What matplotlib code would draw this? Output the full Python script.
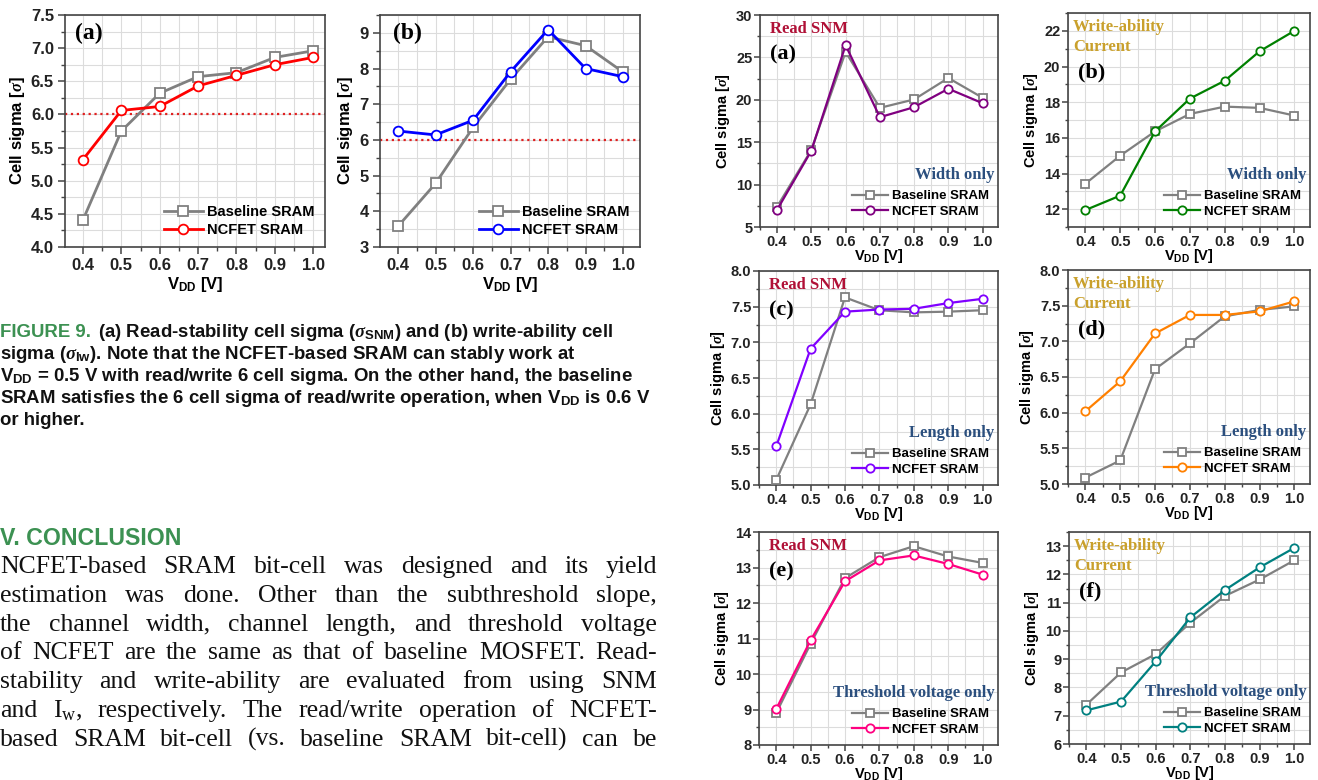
import matplotlib.pyplot as plt
from matplotlib.ticker import MultipleLocator

plt.rcParams['font.family'] = 'Liberation Sans'
plt.rcParams['font.weight'] = 'bold'
plt.rcParams['axes.labelweight'] = 'bold'
plt.rcParams['mathtext.fontset'] = 'custom'
plt.rcParams['mathtext.rm'] = 'Liberation Serif:regular'
plt.rcParams['mathtext.it'] = 'Liberation Serif:italic'
plt.rcParams['mathtext.bf'] = 'Liberation Sans:bold'

W, H = 1318, 780

# ---- data ----
vdd = [0.4, 0.5, 0.6, 0.7, 0.8, 0.9, 1.0]

# Figure 9 (left)
snm_base = [4.41, 5.75, 6.32, 6.57, 6.63, 6.86, 6.96]
snm_ncfet = [5.32, 6.06, 6.12, 6.43, 6.59, 6.75, 6.86]
iw_base = [3.58, 4.78, 6.35, 7.70, 8.89, 8.64, 7.90]
iw_ncfet = [6.25, 6.14, 6.55, 7.91, 9.09, 8.00, 7.77]

# right figure: width / length / threshold voltage only
w_snm_base = [7.4, 14.1, 25.65, 19.05, 20.04, 22.57, 20.24]
w_snm_ncfet = [7.04, 14.0, 26.44, 17.95, 19.13, 21.3, 19.6]
w_iw_base = [13.43, 15.0, 16.36, 17.34, 17.75, 17.68, 17.25]
w_iw_ncfet = [11.95, 12.76, 16.36, 18.2, 19.2, 20.85, 22.0]
l_snm_base = [5.07, 6.13, 7.63, 7.45, 7.42, 7.43, 7.45]
l_snm_ncfet = [5.54, 6.91, 7.43, 7.46, 7.47, 7.55, 7.61]
l_iw_base = [5.09, 5.33, 6.61, 6.97, 7.35, 7.44, 7.49]
l_iw_ncfet = [6.02, 6.44, 7.11, 7.37, 7.37, 7.42, 7.56]
v_snm_base = [8.9, 10.85, 12.70, 13.29, 13.6, 13.31, 13.13]
v_snm_ncfet = [9.01, 10.95, 12.61, 13.2, 13.34, 13.1, 12.8]
v_iw_base = [7.39, 8.53, 9.18, 10.29, 11.24, 11.82, 12.5]
v_iw_ncfet = [7.19, 7.5, 8.92, 10.48, 11.45, 12.25, 12.94]

caption = [
    r"sigma ($\sigma_{\mathbf{Iw}}$). Note that the NCFET-based SRAM can stably work at",
    r"V$_{\mathbf{DD}}$ = 0.5 V with read/write 6 cell sigma. On the other hand, the baseline",
    r"SRAM satisfies the 6 cell sigma of read/write operation, when V$_{\mathbf{DD}}$ is 0.6 V",
    "or higher.",
]
caption_first = r"(a) Read-stability cell sigma ($\sigma_{\mathbf{SNM}}$) and (b) write-ability cell"

body = [
    "NCFET-based SRAM bit-cell was designed and its yield",
    "estimation was done. Other than the subthreshold slope,",
    "the channel width, channel length, and threshold voltage",
    "of NCFET are the same as that of baseline MOSFET. Read-",
    "stability and write-ability are evaluated from using SNM",
    r"and I$_\mathrm{w}$, respectively. The read/write operation of NCFET-",
    "based SRAM bit-cell (vs. baseline SRAM bit-cell) can be",
]

fig = plt.figure(figsize=(W / 100, H / 100), dpi=100)
fig.patch.set_facecolor('white')


def px_axes(x0, y0, x1, y1):
    return fig.add_axes([x0 / W, 1 - y1 / H, (x1 - x0) / W, (y1 - y0) / H])


def panel(ax, base, ncf, color, ylim, major, minor, xlim, big=False):
    lw = 2.0 if big else 1.6
    ms = 6.5 if big else 5.5
    ax.plot(vdd, base, color='#808080', lw=lw, marker='s', ms=ms,
            mfc='white', mec='#808080', mew=1.3, label='Baseline SRAM', zorder=3)
    ax.plot(vdd, ncf, color=color, lw=lw, marker='o', ms=ms + 0.5,
            mfc='white', mec=color, mew=1.3, label='NCFET SRAM', zorder=4)
    ax.set_xlim(*xlim)
    ax.set_ylim(*ylim)
    ax.xaxis.set_major_locator(MultipleLocator(0.1))
    ax.xaxis.set_minor_locator(MultipleLocator(0.05))
    ax.yaxis.set_major_locator(MultipleLocator(major))
    ax.yaxis.set_minor_locator(MultipleLocator(minor))
    ax.grid(which='both', color='#dcdcdc', lw=0.8)
    ax.set_axisbelow(True)
    for s in ax.spines.values():
        s.set_color('#444444')
        s.set_linewidth(1.2)
    fs = 12 if big else 10.5
    ax.tick_params(which='major', direction='out', length=5 if big else 4, width=1.1,
                   color='#444444', labelsize=fs, labelcolor='#222222',
                   pad=3 if big else 1.5)
    ax.tick_params(which='minor', direction='out', length=3 if big else 2.5,
                   width=1.0, color='#444444')
    ax.set_xlabel(r"V$_{\mathbf{DD}}$ [V]", fontsize=12 if big else 10.5,
                  labelpad=1 if big else -1.5)
    ax.set_ylabel(r"Cell sigma [$\sigma$]", fontsize=12 if big else 10.5, labelpad=3)
    ax.legend(loc='lower right', frameon=False, fontsize=10.5 if big else 9.5,
              handlelength=2.7, handletextpad=0.3, labelspacing=0.25,
              borderaxespad=0.3)


serif = dict(family='Liberation Serif', weight='bold')
red_snm = '#B01036'
gold = '#C9A02C'
navy = '#2B4F7E'

# ---- Figure 9 (left) ----
ax = px_axes(65, 15, 325, 247)
panel(ax, snm_base, snm_ncfet, '#FF0000', (4.0, 7.5), 0.5, 0.25, (0.353, 1.031), big=True)
ax.axhline(6.0, color='#E02020', ls=':', lw=1.6, zorder=2)
ax.text(0.04, 0.92, '(a)', transform=ax.transAxes, fontsize=17, va='center', **serif)

ax = px_axes(380, 15, 640, 247)
panel(ax, iw_base, iw_ncfet, '#0000FF', (3, 9.5), 1, 0.5, (0.352, 1.045), big=True)
ax.axhline(6.0, color='#E02020', ls=':', lw=1.6, zorder=2)
ax.text(0.05, 0.92, '(b)', transform=ax.transAxes, fontsize=17, va='center', **serif)

# ---- right figure ----
right = [
    ((760, 15, 998, 227), w_snm_base, w_snm_ncfet, '#800080', (5, 30), 5, 2.5, 'snm', '(a)', 'Width only'),
    ((1068, 13, 1310, 227), w_iw_base, w_iw_ncfet, '#008000', (11, 23), 2, 1, 'iw', '(b)', 'Width only'),
    ((759, 271, 998, 485), l_snm_base, l_snm_ncfet, '#8000FF', (5, 8), 0.5, 0.25, 'snm', '(c)', 'Length only'),
    ((1068, 270, 1310, 484), l_iw_base, l_iw_ncfet, '#FF8000', (5, 8), 0.5, 0.25, 'iw', '(d)', 'Length only'),
    ((759, 532, 998, 745), v_snm_base, v_snm_ncfet, '#FF0080', (8, 14), 1, 0.5, 'snm', '(e)', 'Threshold voltage only'),
    ((1069, 532, 1310, 744), v_iw_base, v_iw_ncfet, '#008080', (6, 13.5), 1, 0.5, 'iw', '(f)', 'Threshold voltage only'),
]
for box, b, n, c, yl, mj, mn, kind, tag, note in right:
    ax = px_axes(*box)
    panel(ax, b, n, c, yl, mj, mn, (0.35, 1.045))
    if kind == 'snm':
        ax.text(0.04, 0.935, 'Read SNM', transform=ax.transAxes, fontsize=12,
                color=red_snm, va='center', **serif)
        ax.text(0.04, 0.815, tag, transform=ax.transAxes, fontsize=16, va='center', **serif)
    else:
        ax.text(0.02, 0.935, 'Write-ability', transform=ax.transAxes, fontsize=12,
                color=gold, va='center', **serif)
        ax.text(0.02, 0.84, 'Current', transform=ax.transAxes, fontsize=12,
                color=gold, va='center', **serif)
        ax.text(0.04, 0.72, tag, transform=ax.transAxes, fontsize=16, va='center', **serif)
    ax.text(0.985, 0.245, note, transform=ax.transAxes, fontsize=12, color=navy,
            ha='right', va='center', **serif)

# ---- caption, heading and body text ----
r = fig.canvas.get_renderer()
cap_font = ['Liberation Sans Narrow', 'Liberation Sans']
probe = fig.text(0, 0, caption[2], fontsize=14, family=cap_font, weight='bold')
cfs = 14 * 655 / probe.get_window_extent(r).width
probe.remove()

green = '#3C9152'
fig.text(0, 1 - 337 / H, 'FIGURE 9.', fontsize=cfs, family=cap_font, weight='bold',
         color=green, va='baseline')
fig.text(98 / W, 1 - 337 / H, caption_first, fontsize=cfs, family=cap_font,
         weight='bold', color='#111111', va='baseline')
for i, line in enumerate(caption):
    fig.text(0, 1 - (359 + 22 * i) / H, line, fontsize=cfs, family=cap_font,
             weight='bold', color='#111111', va='baseline')

head = fig.text(0, 1 - 545 / H, 'V. CONCLUSION', fontsize=14, family=cap_font,
                weight='bold', color=green, va='baseline')
head.set_fontsize(14 * 182 / head.get_window_extent(r).width)

# justified body text: pick the size at which the tightest line keeps ~0.4 em gaps
x_left, x_right = 0, 657
rows = []
for line in body:
    words = line.split(' ')
    texts = [fig.text(0, 0, w, fontsize=10, family='Liberation Serif', weight='normal',
                      style='italic' if w == 'vs.' else 'normal', color='#111111',
                      va='baseline') for w in words]
    rows.append(texts)
em10 = 10 * 100 / 72
bfs = min(10 * (x_right - x_left) /
          (sum(t.get_window_extent(r).width for t in texts) + (len(texts) - 1) * 0.4 * em10)
          for texts in rows)
for i, texts in enumerate(rows):
    for t in texts:
        t.set_fontsize(bfs)
    widths = [t.get_window_extent(r).width for t in texts]
    gap = (x_right - x_left - sum(widths)) / (len(texts) - 1)
    x = x_left
    y = 1 - (573 + 28.8 * i) / H
    for t, wd in zip(texts, widths):
        t.set_position((x / W, y))
        x += wd + gap

fig.savefig('out.png', dpi=100)
